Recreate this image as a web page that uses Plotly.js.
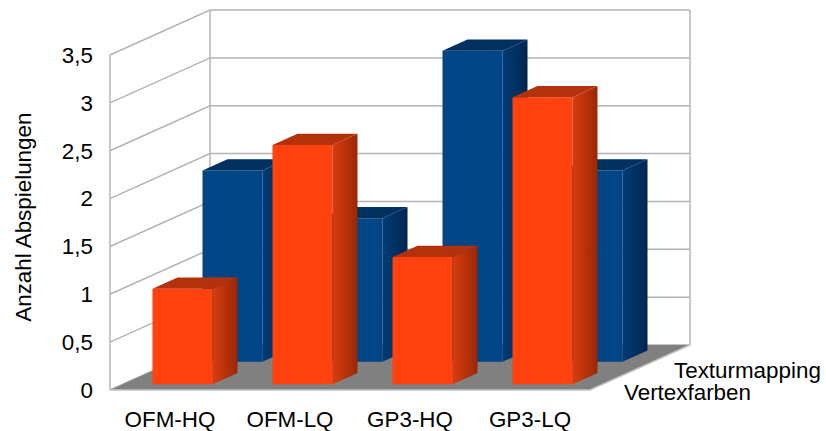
<!DOCTYPE html>
<html>
<head>
<meta charset="utf-8">
<script src="https://cdn.plot.ly/plotly-3.0.1.min.js"></script>
<style>
  html, body { margin: 0; padding: 0; background: #ffffff; }
  #chart { width: 826px; height: 431px; }
</style>
</head>
<body>
<div id="chart"></div>
<script>
// Categories and series values
const categories = ['OFM-HQ', 'OFM-LQ', 'GP3-HQ', 'GP3-LQ'];
const seriesNames = ['Vertexfarben', 'Texturmapping'];
const vertexfarben = [1, 2.5, 1.33, 3];
const texturmapping = [2, 1.5, 3.25, 2];
const yTickVals = [0, 0.5, 1, 1.5, 2, 2.5, 3, 3.5];
const yTickText = ['0', '0,5', '1', '1,5', '2', '2,5', '3', '3,5'];
const yTitle = 'Anzahl Abspielungen';

// Oblique projection: depth d in [0,1] shifts a point right and up
const DEPTH_DX = 100 / 120;   // category units per unit depth
const DEPTH_DY = 45 / 95.7;   // value units per unit depth
const V_MAX = yTickVals[yTickVals.length - 1];
const N = categories.length;

function P(x, v, d) { return [x + d * DEPTH_DX, v + d * DEPTH_DY]; }

function poly(points) {
  const xs = [], ys = [];
  points.forEach(p => { xs.push(p[0]); ys.push(p[1]); });
  xs.push(points[0][0]); ys.push(points[0][1]);
  return { x: xs, y: ys };
}

const traces = [];
function face(points, style) {
  const p = poly(points);
  const t = Object.assign({
    x: p.x, y: p.y, type: 'scatter', mode: 'lines', fill: 'toself',
    line: { width: 0 }, hoverinfo: 'skip', showlegend: false
  }, style);
  traces.push(t);
}

// Walls
face([P(0, 0, 0), P(0, 0, 1), P(0, V_MAX, 1), P(0, V_MAX, 0)], { fillcolor: '#ffffff' });
face([P(0, 0, 1), P(N, 0, 1), P(N, V_MAX, 1), P(0, V_MAX, 1)], { fillcolor: '#ffffff' });

// Grid lines on the left and back walls plus wall edges
(function () {
  const gx = [], gy = [];
  yTickVals.forEach(v => {
    [P(0, v, 0), P(0, v, 1), P(N, v, 1)].forEach(p => { gx.push(p[0]); gy.push(p[1]); });
    gx.push(null); gy.push(null);
  });
  [[P(0, 0, 0), P(0, V_MAX, 0)], [P(0, 0, 1), P(0, V_MAX, 1)], [P(N, 0, 1), P(N, V_MAX, 1)]].forEach(seg => {
    seg.forEach(p => { gx.push(p[0]); gy.push(p[1]); });
    gx.push(null); gy.push(null);
  });
  traces.push({
    x: gx, y: gy, type: 'scatter', mode: 'lines',
    line: { color: '#b4b4b4', width: 1.5 }, hoverinfo: 'skip', showlegend: false
  });
})();

// Floor
face([P(0, 0, 0), P(N, 0, 0), P(N, 0, 1), P(0, 0, 1)], { fillcolor: '#808080' });
(function () {
  const a = P(0, 0, 0), b = P(N, 0, 0), c = P(N, 0, 1);
  traces.push({
    x: [a[0], b[0], c[0]], y: [a[1], b[1], c[1]], type: 'scatter', mode: 'lines',
    line: { color: '#c4c4c4', width: 1.5 }, hoverinfo: 'skip', showlegend: false
  });
})();

// Bar styles per series
const styles = [
  { front: '#ff420e', top: '#b3320c', side: [[0, '#d83c0e'], [1, '#9a2806']] },
  { front: '#004586', top: '#00305f', side: [[0, '#003c76'], [1, '#002650']] }
];

function bar(i, value, row) {
  const x0 = i + 0.25, x1 = i + 0.75;
  const d0 = row * 0.5 + 0.125, d1 = d0 + 0.25;
  const s = styles[row];
  face([P(x0, 0, d0), P(x1, 0, d0), P(x1, value, d0), P(x0, value, d0)], { fillcolor: s.front });
  face([P(x1, 0, d0), P(x1, 0, d1), P(x1, value, d1), P(x1, value, d0)],
       { fillcolor: s.side[0][1], fillgradient: { type: 'horizontal', colorscale: s.side } });
  face([P(x0, value, d0), P(x1, value, d0), P(x1, value, d1), P(x0, value, d1)], { fillcolor: s.top });
}

// Back row first, then the front row over it
texturmapping.forEach((v, i) => bar(i, v, 1));
vertexfarben.forEach((v, i) => bar(i, v, 0));

const font = { family: 'Liberation Sans, Arial, sans-serif', size: 22.4, color: '#000000' };

// Depth-axis labels for the two series
const annotations = seriesNames.map((name, row) => {
  const p = P(N, 0, row * 0.5 + 0.25);
  return {
    x: p[0], y: p[1], xref: 'x', yref: 'y', text: name, showarrow: false,
    xanchor: 'left', yanchor: 'middle', xshift: 7, yshift: -14, font: font
  };
});

// Value-axis title, left of the tick labels
annotations.push({
  x: 0, y: 1.8, xref: 'paper', yref: 'y', xshift: -76,
  text: yTitle, textangle: -90, showarrow: false,
  xanchor: 'center', yanchor: 'middle', font: font
});

const layout = {
  width: 826, height: 431,
  margin: { l: 100, r: 6, t: 5, b: 31 },
  paper_bgcolor: '#ffffff', plot_bgcolor: '#ffffff',
  font: font,
  showlegend: false,
  xaxis: {
    range: [-10 / 120, -10 / 120 + 720 / 120],
    tickmode: 'array',
    tickvals: categories.map((c, i) => i + 0.5),
    ticktext: categories,
    showgrid: false, zeroline: false, showline: false, ticks: '',
    ticklabelstandoff: 4,
    automargin: false, fixedrange: true
  },
  yaxis: {
    range: [-10 / 95.7, -10 / 95.7 + 395 / 95.7],
    tickmode: 'array',
    tickvals: yTickVals,
    ticktext: yTickText,
    showgrid: false, zeroline: false, showline: false, ticks: '',
    ticklabelstandoff: 6,
    automargin: false, fixedrange: true
  },
  annotations: annotations
};

Plotly.newPlot('chart', traces, layout, { staticPlot: true, displayModeBar: false });
</script>
</body>
</html>
